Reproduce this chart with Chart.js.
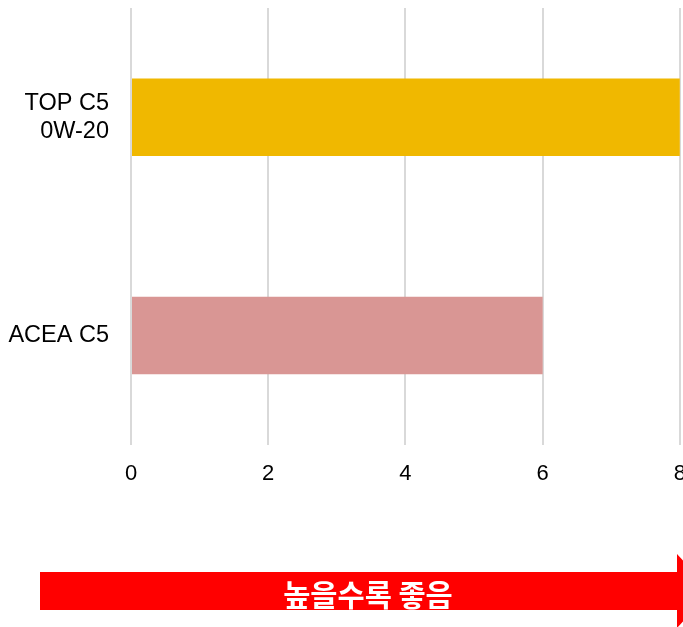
<!DOCTYPE html>
<html>
<head>
<meta charset="utf-8">
<script src="https://cdn.jsdelivr.net/npm/chart.js@4"></script>
<style>
  html, body { margin: 0; padding: 0; background: #fff; overflow: hidden; width: 683px; height: 627px; }
  #wrap { position: absolute; left: 0; top: 0; width: 702px; height: 627px; }
  #arrow-body { position: absolute; left: 40px; top: 572px; width: 638px; height: 38px; background: #ff0000; }
  #arrow-head { position: absolute; left: 677px; top: 554px; width: 34px; height: 74px; background: #ff0000;
                clip-path: polygon(0 0, 100% 50%, 0 100%); }
  #arrow-text { position: absolute; left: 218px; top: 572px; width: 300px; height: 38px; line-height: 38px;
                text-align: center; color: #fff; font: bold 29.5px "Noto Sans CJK KR", sans-serif; }
</style>
</head>
<body>
<div id="wrap"><canvas id="chart"></canvas></div>
<div id="arrow-body"></div>
<div id="arrow-head"></div>
<div id="arrow-text">높을수록 좋음</div>
<script>
// 데이터
const categories = [['TOP C5', '0W-20'], 'ACEA C5'];
const values = [8, 6];
const barColors = ['#f0b800', '#d99694'];
const xTicks = [0, 2, 4, 6, 8];

const ctx = document.getElementById('chart').getContext('2d');

const myChart = new Chart(ctx, {
    type: 'bar',
    data: {
        labels: categories,
        datasets: [{
            data: values,
            backgroundColor: barColors,
            borderWidth: 0,
            categoryPercentage: 1,
            barPercentage: 0.355
        }]
    },
    options: {
        indexAxis: 'y',
        responsive: true,
        maintainAspectRatio: false,
        animation: false,
        layout: { padding: { top: 8, right: 19, bottom: 124, left: 8 } },
        plugins: {
            legend: { display: false },
            tooltip: { enabled: false }
        },
        scales: {
            x: {
                min: xTicks[0],
                max: xTicks[xTicks.length - 1],
                afterBuildTicks: axis => { axis.ticks = xTicks.map(v => ({ value: v })); },
                grid: { color: '#d9d9d9', lineWidth: 2, drawTicks: false },
                border: { display: false },
                ticks: { color: '#000', padding: 16, font: { family: 'Liberation Sans, Arial', size: 22 } }
            },
            y: {
                grid: { display: false, drawTicks: false },
                border: { display: false },
                afterFit: axis => {
                    axis.width = 123;
                    axis.paddingTop = 0;
                    axis.paddingBottom = 0;
                },
                ticks: { color: '#000', padding: 22, font: { family: 'Liberation Sans, Arial', size: 23.5 } }
            }
        }
    }
});
</script>
</body>
</html>
